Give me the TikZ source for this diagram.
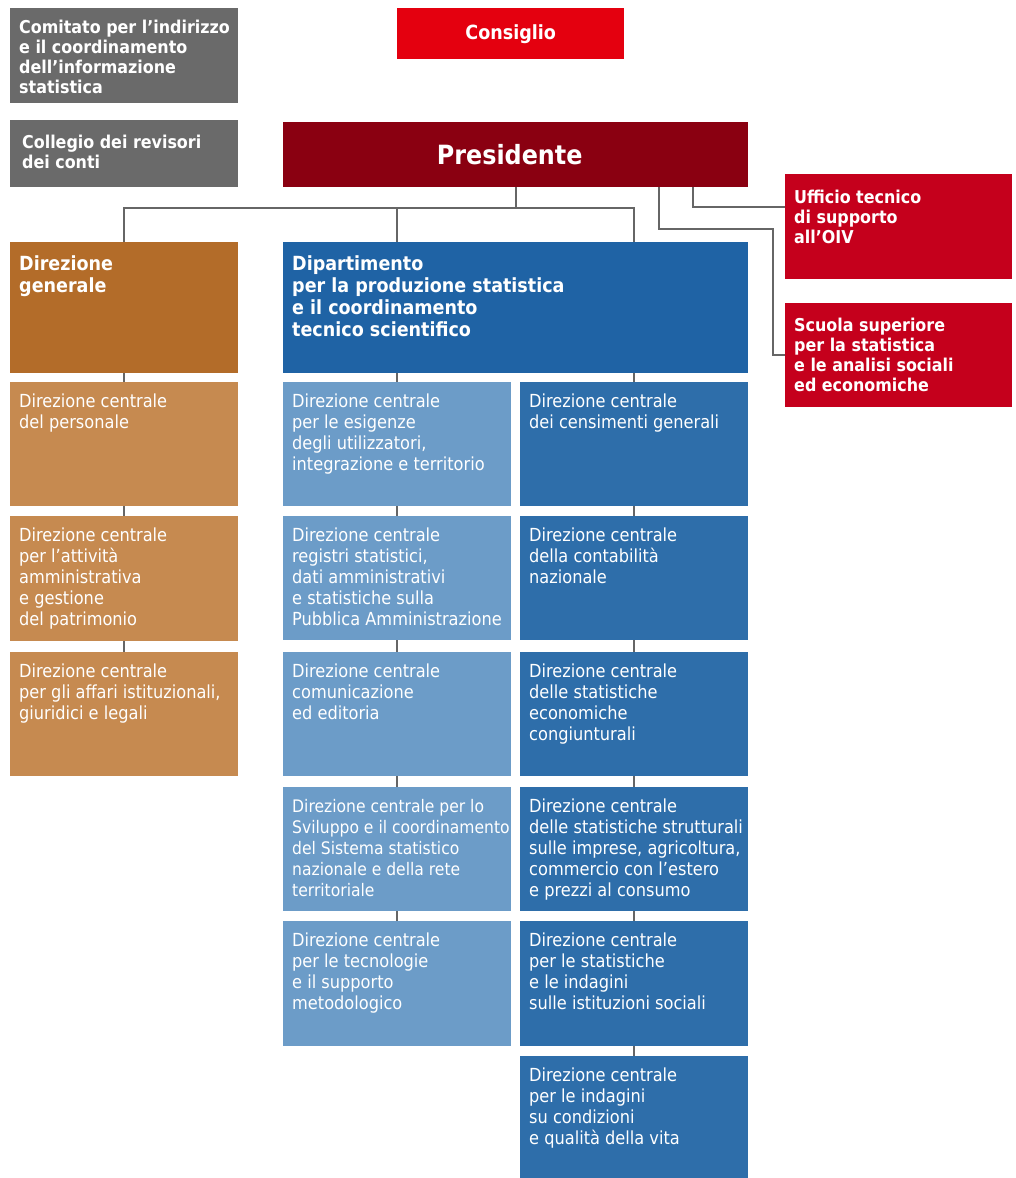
\documentclass[tikz,border=0pt]{standalone}
\usepackage{fontspec}
\setmainfont{DejaVu Sans Condensed}
\usetikzlibrary{calc}

\definecolor{grigio}{HTML}{6A6A6A}
\definecolor{rosso}{HTML}{E4000F}
\definecolor{bordeaux}{HTML}{8A0011}
\definecolor{rossoscuro}{HTML}{C5001C}
\definecolor{ocra}{HTML}{B36C29}
\definecolor{ocrachiaro}{HTML}{C68A50}
\definecolor{blu}{HTML}{1F63A5}
\definecolor{bluchiaro}{HTML}{6C9CC8}
\definecolor{blumedio}{HTML}{2E6EAA}
\definecolor{linea}{HTML}{666666}

% text block in a box: width, height, top pad (pt), lines
\newcommand{\cell}[4]{\parbox[c][#2pt][t]{#1pt}{\vspace*{#3pt}\begin{tabular}[t]{@{}l@{}}#4\end{tabular}}}

\tikzset{
  unit/.style={fill=#1, text=white, anchor=north west, inner xsep=9pt, inner ysep=0pt},
  small/.style={font=\fontsize{18}{21}\selectfont},
  capo/.style={font=\bfseries\fontsize{17.7}{20}\selectfont},
  head/.style={font=\bfseries\fontsize{19.5}{22}\selectfont},
  link/.style={draw=linea, line width=2pt}
}

\begin{document}
\begin{tikzpicture}[x=1pt,y=-1pt]
  \useasboundingbox (0,0) rectangle (1015,1178);

  % organi
  \node[unit=grigio,capo] (cmt) at (10,8) {\cell{210}{95}{11}{Comitato per l'indirizzo\\e il coordinamento\\dell'informazione\\statistica}};
  \node[unit=grigio,capo] (col) at (10,120) {\cell{210}{67}{14}{\hspace*{3pt}Collegio dei revisori\\\hspace*{3pt}dei conti}};
  \node[unit=rosso, minimum width=227, minimum height=51, font=\bfseries\fontsize{19.5}{22}\selectfont] (cons) at (397,8) {Consiglio};
  \node[unit=bordeaux, minimum width=465, minimum height=65, font=\bfseries\fontsize{26.5}{30}\selectfont] (pres) at (283,122) {\hspace*{-12pt}Presidente};
  \node[unit=rossoscuro,capo] (uff) at (785,174) {\cell{209}{105}{15}{Ufficio tecnico\\di supporto\\all'OIV}};
  \node[unit=rossoscuro,capo] (scu) at (785,303) {\cell{209}{104}{14}{Scuola superiore\\per la statistica\\e le analisi sociali\\ed economiche}};

  % strutture
  \node[unit=ocra,head] (dg) at (10,242) {\cell{210}{131}{13}{Direzione\\generale}};
  \node[unit=blu,head] (dip) at (283,242) {\cell{447}{131}{13}{Dipartimento\\per la produzione statistica\\e il coordinamento\\tecnico scientifico}};

  % direzioni centrali, colonna sinistra
  \node[unit=ocrachiaro,small] (o1) at (10,382) {\cell{210}{124}{10.5}{Direzione centrale\\del personale}};
  \node[unit=ocrachiaro,small] (o2) at (10,516) {\cell{210}{125}{10.5}{Direzione centrale\\per l'attività\\amministrativa\\e gestione\\del patrimonio}};
  \node[unit=ocrachiaro,small] (o3) at (10,652) {\cell{210}{124}{10.5}{Direzione centrale\\per gli affari istituzionali,\\giuridici e legali}};

  % direzioni centrali del dipartimento
  \node[unit=bluchiaro,small] (a1) at (283,382) {\cell{210}{124}{10.5}{Direzione centrale\\per le esigenze\\degli utilizzatori,\\integrazione e territorio}};
  \node[unit=bluchiaro,small] (a2) at (283,516) {\cell{210}{124}{10.5}{Direzione centrale\\registri statistici,\\dati amministrativi\\e statistiche sulla\\Pubblica Amministrazione}};
  \node[unit=bluchiaro,small] (a3) at (283,652) {\cell{210}{124}{10.5}{Direzione centrale\\comunicazione\\ed editoria}};
  \node[unit=bluchiaro,font=\fontsize{17.3}{21}\selectfont] (a4) at (283,787) {\cell{210}{124}{10.5}{Direzione centrale per lo\\Sviluppo e il coordinamento\\del Sistema statistico\\nazionale e della rete\\territoriale}};
  \node[unit=bluchiaro,small] (a5) at (283,921) {\cell{210}{125}{10.5}{Direzione centrale\\per le tecnologie\\e il supporto\\metodologico}};

  \node[unit=blumedio,small] (b1) at (520,382) {\cell{210}{124}{10.5}{Direzione centrale\\dei censimenti generali}};
  \node[unit=blumedio,small] (b2) at (520,516) {\cell{210}{124}{10.5}{Direzione centrale\\della contabilità\\nazionale}};
  \node[unit=blumedio,small] (b3) at (520,652) {\cell{210}{124}{10.5}{Direzione centrale\\delle statistiche\\economiche\\congiunturali}};
  \node[unit=blumedio,small] (b4) at (520,787) {\cell{210}{124}{10.5}{Direzione centrale\\delle statistiche strutturali\\sulle imprese, agricoltura,\\commercio con l'estero\\e prezzi al consumo}};
  \node[unit=blumedio,small] (b5) at (520,921) {\cell{210}{125}{10.5}{Direzione centrale\\per le statistiche\\e le indagini\\sulle istituzioni sociali}};
  \node[unit=blumedio,small] (b6) at (520,1056) {\cell{210}{122}{10.5}{Direzione centrale\\per le indagini\\su condizioni\\e qualità della vita}};

  % collegamenti
  \coordinate (bus) at (0,208);
  \coordinate (gomito) at (773,229);
  \draw[link] (pres.south) -- (pres.south |- bus);
  \draw[link] (dg.north) -- (dg.north |- bus) -- (b1.north |- bus) -- (b1.north |- dip.north);
  \draw[link] (a1.north |- bus) -- (a1.north |- dip.north);
  \draw[link] ([xshift=-55pt]pres.south east) |- ([yshift=-33pt]uff.north west);
  \draw[link] ([xshift=-89pt]pres.south east) |- (gomito) |- (scu.west);
  \draw[link] (a1.north |- dip.south) -- (a1.north);
  \draw[link] (b1.north |- dip.south) -- (b1.north);
  \draw[link] (dg.south) -- (o1.north);
  \draw[link] (o1.south) -- (o2.north);
  \draw[link] (o2.south) -- (o3.north);
  \draw[link] (a1.south) -- (a2.north);
  \draw[link] (a2.south) -- (a3.north);
  \draw[link] (a3.south) -- (a4.north);
  \draw[link] (a4.south) -- (a5.north);
  \draw[link] (b1.south) -- (b2.north);
  \draw[link] (b2.south) -- (b3.north);
  \draw[link] (b3.south) -- (b4.north);
  \draw[link] (b4.south) -- (b5.north);
  \draw[link] (b5.south) -- (b6.north);
\end{tikzpicture}
\end{document}
